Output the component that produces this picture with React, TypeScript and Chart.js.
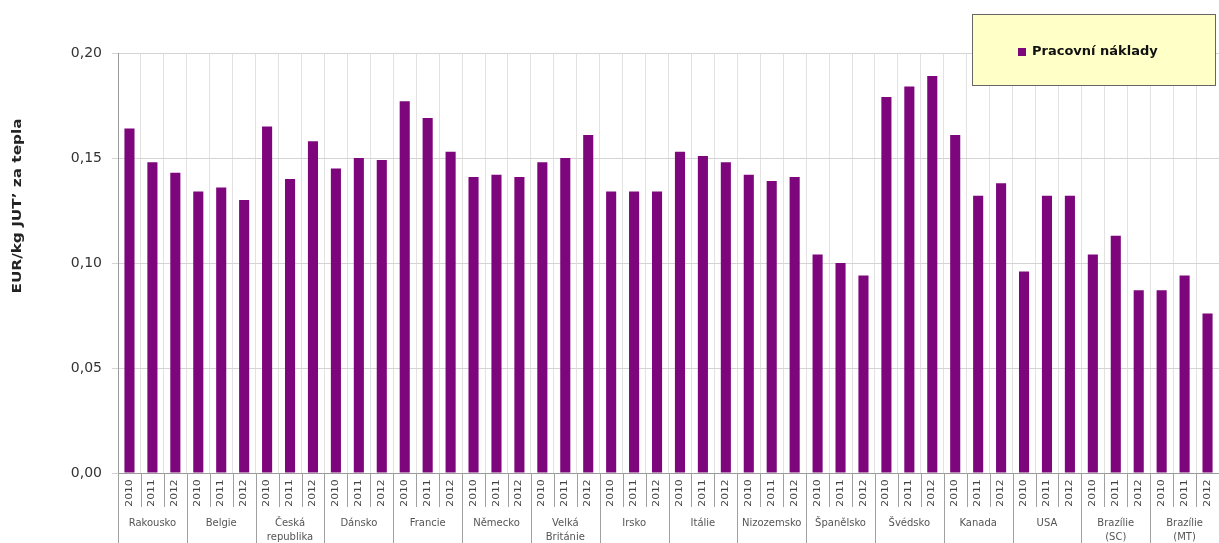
import React, { useEffect, useRef } from 'react';
import { Chart, registerables } from 'chart.js';

Chart.register(...registerables);

const countries: string[][] = [
  ['Rakousko'], ['Belgie'], ['Česká', 'republika'], ['Dánsko'], ['Francie'], ['Německo'],
  ['Velká', 'Británie'], ['Irsko'], ['Itálie'], ['Nizozemsko'], ['Španělsko'], ['Švédsko'],
  ['Kanada'], ['USA'], ['Brazílie', '(SC)'], ['Brazílie', '(MT)'],
];
const years = ['2010', '2011', '2012'];
const values2010 = [0.164, 0.134, 0.165, 0.145, 0.177, 0.141, 0.148, 0.134, 0.153, 0.142, 0.104, 0.179, 0.161, 0.096, 0.104, 0.087];
const values2011 = [0.148, 0.136, 0.140, 0.150, 0.169, 0.142, 0.150, 0.134, 0.151, 0.139, 0.100, 0.184, 0.132, 0.132, 0.113, 0.094];
const values2012 = [0.143, 0.130, 0.158, 0.149, 0.153, 0.141, 0.161, 0.134, 0.148, 0.141, 0.094, 0.189, 0.138, 0.132, 0.087, 0.076];
const yTicks = [0, 0.05, 0.1, 0.15, 0.2];
const seriesName = 'Pracovní náklady';
const yTitle = 'EUR/kg JUT\u2019 za tepla';

const BAR_COLOR = '#7d067d';

export default function App() {
  const ref = useRef<HTMLCanvasElement | null>(null);

  useEffect(() => {
    document.body.style.margin = '0';
    document.body.style.overflow = 'hidden';
    const canvas = ref.current;
    if (!canvas) return;

    const labels: string[] = [];
    const data: number[] = [];
    countries.forEach((_, ci) => {
      const vals = [values2010[ci], values2011[ci], values2012[ci]];
      years.forEach((y, yi) => {
        labels.push(y);
        data.push(vals[yi]);
      });
    });

    const overlay = {
      id: 'overlay',
      afterDraw(chart: any) {
        const ctx = chart.ctx as CanvasRenderingContext2D;
        const xs = chart.scales.x;
        const area = chart.chartArea;
        const step = xs.getPixelForValue(1) - xs.getPixelForValue(0);
        const n = labels.length;
        ctx.save();
        // divider lines below axis
        ctx.strokeStyle = '#a0a0a0';
        ctx.lineWidth = 1;
        for (let i = 0; i <= n; i++) {
          const bx = Math.round(xs.getPixelForValue(0) - step / 2 + i * step) + 0.5;
          const isGroup = i % years.length === 0;
          ctx.beginPath();
          ctx.moveTo(bx, area.bottom);
          ctx.lineTo(bx, isGroup ? area.bottom + 75 : area.bottom + 34);
          ctx.stroke();
        }
        // year labels
        ctx.fillStyle = '#444';
        ctx.font = '8px "DejaVu Sans"';
        ctx.textAlign = 'center';
        ctx.textBaseline = 'middle';
        for (let i = 0; i < n; i++) {
          const cx = xs.getPixelForValue(i);
          ctx.save();
          ctx.translate(cx, area.bottom + 20);
          ctx.rotate(-Math.PI / 2);
          ctx.scale(1.35, 1);
          ctx.fillText(labels[i], 0, 0);
          ctx.restore();
        }
        // country labels
        ctx.font = '10px "DejaVu Sans"';
        ctx.fillStyle = '#555';
        countries.forEach((lines, ci) => {
          const cx = xs.getPixelForValue(ci * 3 + 1);
          lines.forEach((line, li) => {
            ctx.fillText(line, cx, area.bottom + 50 + li * 14);
          });
        });
        // y title
        ctx.save();
        ctx.translate(18, 206);
        ctx.rotate(-Math.PI / 2);
        ctx.font = 'bold 13px "DejaVu Sans"';
        ctx.fillStyle = '#222';
        const w = ctx.measureText(yTitle).width;
        ctx.scale(175 / w, 1);
        ctx.fillText(yTitle, 0, 0);
        ctx.restore();
        // legend
        ctx.fillStyle = '#ffffc8';
        ctx.fillRect(972, 14, 243, 71);
        ctx.strokeStyle = '#666';
        ctx.lineWidth = 1;
        ctx.strokeRect(972.5, 14.5, 243, 71);
        ctx.fillStyle = BAR_COLOR;
        ctx.fillRect(1018, 48, 8, 8);
        ctx.fillStyle = '#111';
        ctx.font = 'bold 13px "DejaVu Sans"';
        ctx.textAlign = 'left';
        ctx.fillText(seriesName, 1032, 52);
        ctx.restore();
      },
    };

    const chart = new Chart(canvas, {
      type: 'bar',
      data: {
        labels,
        datasets: [
          {
            label: seriesName,
            data,
            backgroundColor: BAR_COLOR,
            borderWidth: 0,
            barPercentage: 0.44,
            categoryPercentage: 1,
          },
        ],
      },
      options: {
        responsive: false,
        animation: false,
        layout: { padding: { top: 53, right: 0, left: 0, bottom: 0 } },
        plugins: {
          legend: { display: false },
          tooltip: { enabled: false },
        },
        scales: {
          x: {
            offset: true,
            ticks: { display: false },
            grid: { offset: true, color: '#e2e2e2', drawTicks: false },
            border: { color: '#9a9a9a' },
            afterFit(scale: any) {
              scale.height = 70;
            },
          },
          y: {
            min: 0,
            max: 0.2,
            afterBuildTicks(scale: any) {
              scale.ticks = yTicks.map((v) => ({ value: v }));
            },
            ticks: {
              color: '#333',
              font: { family: '"DejaVu Sans"', size: 14 },
              padding: 10,
              callback: (v: any) => Number(v).toFixed(2).replace('.', ','),
            },
            grid: { color: '#d4d4d4', tickLength: 6 },
            border: { color: '#9a9a9a' },
            afterFit(scale: any) {
              scale.width = 118;
            },
          },
        },
      },
      plugins: [overlay],
    });

    return () => chart.destroy();
  }, []);

  return <canvas ref={ref} width={1219} height={543} style={{ display: 'block' }} />;
}
